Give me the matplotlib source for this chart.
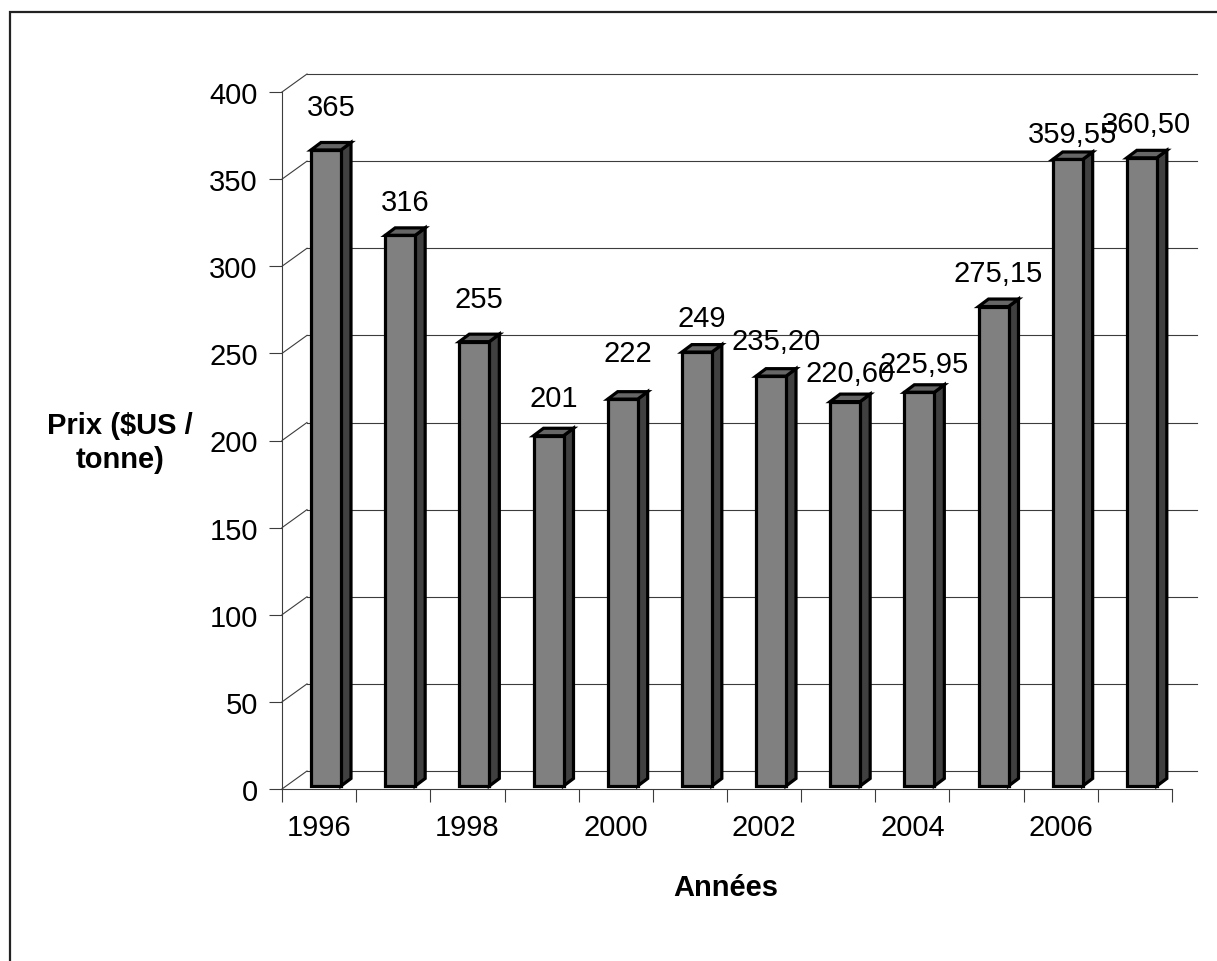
import numpy as np
import matplotlib.pyplot as plt
from matplotlib.patches import Polygon, Rectangle

plt.rcParams['font.family'] = ['Liberation Sans', 'DejaVu Sans']

years = list(range(1996, 2008))
prices = [365, 316, 255, 201, 222, 249, 235.20, 220.60, 225.95, 275.15, 359.55, 360.50]
y_ticks = np.arange(0, 401, 50)


def fr_number(v):
    # virgule décimale, pas de décimales pour les valeurs entières
    if float(v).is_integer():
        return str(int(v))
    return f"{v:.2f}".replace(".", ",")


W, H = 1217, 962
fs = 21
fig = plt.figure(figsize=(W / 100, H / 100), dpi=100)
ax = fig.add_axes([282 / W, (H - 790) / H, 890 / W, 697 / H])
n = len(years)
ax.set_xlim(0, n)
ax.set_ylim(0, 400)

# taille d'un pixel en unités de données
px_x = n / 890
px_y = 400 / 697

# profondeur du mur du fond (effet 3D)
wall_dx, wall_dy = 25 * px_x, 18 * px_y
grid_col = "#3c3c3c"
for v in y_ticks:
    ax.plot([0, wall_dx], [v, v + wall_dy], color=grid_col, lw=0.8, clip_on=False, zorder=1)
    ax.plot([wall_dx, n + wall_dx], [v + wall_dy, v + wall_dy], color=grid_col, lw=0.8,
            clip_on=False, zorder=1)

# colonnes : face avant + côté + dessus
gap = 29 * px_x
bw = 30 * px_x
bdx, bdy = 10 * px_x, 7.5 * px_y
base = 3 * px_y
x0 = np.arange(n) + gap
ax.bar(x0, prices, width=bw, bottom=base, align="edge", color="#808080",
       edgecolor="black", linewidth=2.3, zorder=4, clip_on=False)
for x, v in zip(x0, prices):
    top = v + base
    side = [(x + bw, base), (x + bw + bdx, base + bdy), (x + bw + bdx, top + bdy), (x + bw, top)]
    lid = [(x, top), (x + bdx, top + bdy), (x + bw + bdx, top + bdy), (x + bw, top)]
    ax.add_patch(Polygon(side, closed=True, fc="#404040", ec="black", lw=2.3, zorder=3,
                         clip_on=False))
    ax.add_patch(Polygon(lid, closed=True, fc="#666666", ec="black", lw=2.3, zorder=3,
                         clip_on=False))

# étiquettes de valeurs
lift = [43, 33, 43, 38, 46, 34, 35, 29, 28, 34, 25, 34]
for x, v, dy in zip(x0, prices, lift):
    ax.annotate(fr_number(v), xy=(x + bw / 2 + bdx / 2, v + base), xytext=(0, dy),
                textcoords="offset pixels", ha="center", va="center", fontsize=fs,
                zorder=5, annotation_clip=False)

# axes
for side in ["top", "right"]:
    ax.spines[side].set_visible(False)
for side in ["left", "bottom"]:
    ax.spines[side].set_color(grid_col)
    ax.spines[side].set_linewidth(0.8)
    ax.spines[side].set_zorder(2)

ax.set_yticks(y_ticks)
ax.tick_params(axis="y", direction="out", length=9.4, width=0.8, color=grid_col,
               pad=8, labelsize=fs)
ax.set_xticks(np.arange(n + 1))
ax.set_xticklabels([])
ax.set_xticks(np.arange(n) + 0.5, minor=True)
ax.set_xticklabels([str(y) if i % 2 == 0 else "" for i, y in enumerate(years)], minor=True)
ax.tick_params(axis="x", which="major", direction="out", length=9.4, width=0.8, color=grid_col)
ax.tick_params(axis="x", which="minor", length=0, pad=17, labelsize=fs)

ax.set_ylabel("Prix ($US /\ntonne)", rotation=0, fontsize=fs, fontweight="bold",
              ha="center", va="center", linespacing=1.3)
ax.yaxis.set_label_coords((120 - 282) / 890, (790 - 443) / 697)
ax.set_xlabel("Années", fontsize=fs, fontweight="bold", va="center")
ax.xaxis.set_label_coords((726 - 282) / 890, (790 - 888) / 697)

# cadre du graphique
fig.add_artist(Rectangle((10 / W, -0.05), 1.1, (H - 13) / H + 0.05, transform=fig.transFigure,
                         fill=False, ec="#222222", lw=1.6))

fig.savefig("out.png", dpi=100)
